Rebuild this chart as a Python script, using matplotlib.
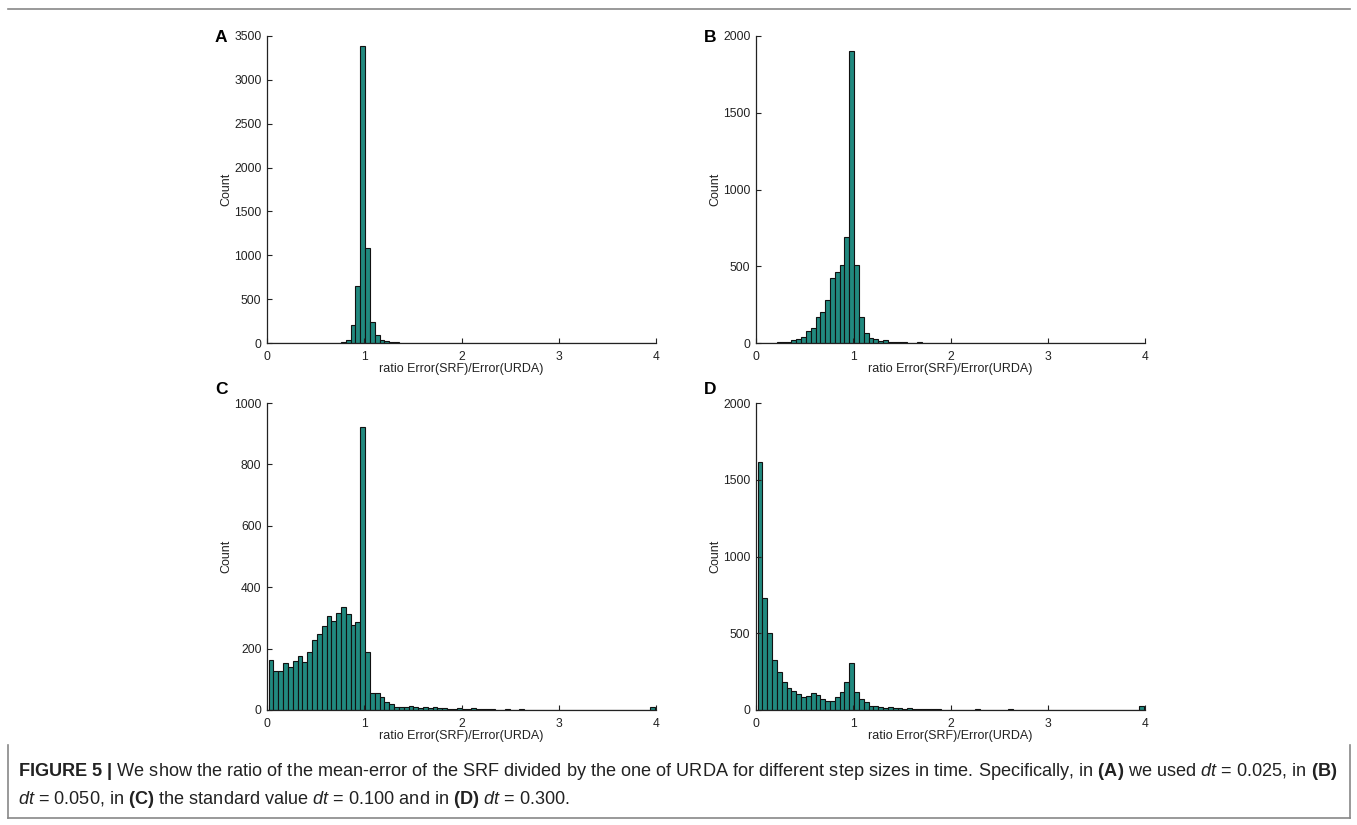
import numpy as np
import matplotlib
matplotlib.use("Agg")
import matplotlib.pyplot as plt
from matplotlib.lines import Line2D

plt.rcParams['font.family'] = ['Liberation Sans', 'DejaVu Sans']
plt.rcParams['mathtext.fontset'] = 'custom'
plt.rcParams['mathtext.rm'] = 'Liberation Sans'
plt.rcParams['mathtext.it'] = 'Liberation Sans:italic'
plt.rcParams['mathtext.bf'] = 'Liberation Sans:bold'

# ---- data: 80 histogram bins between min and max of the ratio ----
bin_lo = 0.017
bin_hi = 3.985
n_bins = 80

counts_A = [0]*14 + [5, 8, 30, 201, 653, 3390, 1082, 243, 87, 30, 20, 10, 6, 4, 2,
            0, 0, 0, 0, 5] + [0]*46
counts_B = [0, 0, 0, 3, 4, 5, 8, 17, 26, 39, 80, 100, 171, 202, 280, 423, 462, 509,
            691, 1902, 511, 169, 65, 33, 28, 11, 17, 8, 6, 5, 4, 3, 3, 5, 2] + [0]*45
counts_C = [163, 128, 128, 154, 140, 158, 175, 157, 189, 227, 247, 272, 305, 291, 317,
            336, 313, 276, 287, 922, 189, 54, 54, 41, 26, 20, 9, 10, 10, 12, 11, 8, 9,
            8, 10, 7, 5, 4, 4, 5, 4, 3, 5, 3, 2, 2, 2, 1, 1, 3, 1, 1, 2, 1, 1, 1, 1,
            1, 1, 1, 1, 1, 1, 1, 1, 1, 1, 1, 1, 1, 1, 1, 1, 1, 1, 1, 1, 1, 1, 11]
counts_D = [1614, 729, 501, 323, 247, 182, 141, 121, 106, 87, 91, 108, 98, 72, 56, 61,
            87, 119, 182, 308, 115, 72, 50, 28, 24, 22, 15, 17, 11, 13, 9, 11, 7, 6,
            7, 5, 4, 4, 3, 3, 2, 3, 2, 2, 2, 4, 2, 1, 1, 1, 1, 1, 4, 1, 1, 1, 1, 1,
            1, 1, 1, 1, 1, 1, 1, 1, 1, 1, 1, 1, 1, 1, 1, 1, 1, 1, 1, 1, 1, 24]

panel_labels = ['A', 'B', 'C', 'D']
ylims = [3500, 2000, 1000, 2000]
yticks = [list(range(0, 3501, 500)), list(range(0, 2001, 500)),
          list(range(0, 1001, 200)), list(range(0, 2001, 500))]
xticks = [0, 1, 2, 3, 4]
xlabel = 'ratio Error(SRF)/Error(URDA)'
ylabel = 'Count'

caption1 = (r"$\mathbf{FIGURE\ 5\ |}$ We show the ratio of the mean-error of the SRF divided by "
            r"the one of URDA for different step sizes in time. Specifically, in $\mathbf{(A)}$ "
            r"we used $\mathit{dt}$ = 0.025, in $\mathbf{(B)}$")
caption2 = (r"$\mathit{dt}$ = 0.050, in $\mathbf{(C)}$ the standard value $\mathit{dt}$ = 0.100 "
            r"and in $\mathbf{(D)}$ $\mathit{dt}$ = 0.300.")

# ---- figure ----
W, H = 1357, 825
fig = plt.figure(figsize=(W/100, H/100), dpi=100)
bar_color = '#21897f'

# axes boxes in pixels: (left, right, top, bottom)
boxes = [(267, 656, 36, 343), (756, 1145, 36, 343),
         (267, 656, 403, 710), (756, 1145, 403, 710)]
all_counts = [counts_A, counts_B, counts_C, counts_D]
edges = np.linspace(bin_lo, bin_hi, n_bins + 1)
widths = np.diff(edges)

for i, (l, r, t, b) in enumerate(boxes):
    ax = fig.add_axes([l/W, 1 - b/H, (r-l)/W, (b-t)/H])
    ax.bar(edges[:-1], all_counts[i], width=widths, align='edge',
           color=bar_color, edgecolor='#111111', linewidth=0.8)
    ax.set_xlim(0, 4)
    ax.set_ylim(0, ylims[i])
    ax.set_xticks(xticks)
    ax.set_yticks(yticks[i])
    ax.spines['top'].set_visible(False)
    ax.spines['right'].set_visible(False)
    for s in ['left', 'bottom']:
        ax.spines[s].set_linewidth(0.9)
        ax.spines[s].set_color('#222222')
    ax.tick_params(direction='in', length=3.5, width=0.8, labelsize=8.7,
                   colors='#222222')
    ax.tick_params(axis='x', pad=6)
    ax.tick_params(axis='y', pad=4)
    ax.set_xlabel(xlabel, fontsize=9, labelpad=0, color='#222222')
    ax.set_ylabel(ylabel, fontsize=9, labelpad=1, color='#222222')
    fig.text((l - 52)/W, 1 - (t + 1)/H if i < 2 else 1 - (t - 13)/H,
             panel_labels[i], fontsize=12.5, fontweight='bold',
             ha='left', va='center')

# frame
def hline(y, x0, x1):
    fig.add_artist(Line2D([x0/W, x1/W], [1 - y/H, 1 - y/H], color='#888888', lw=1.2))

def vline(x, y0, y1):
    fig.add_artist(Line2D([x/W, x/W], [1 - y0/H, 1 - y1/H], color='#888888', lw=1.2))

hline(9, 8, 1350)
vline(8, 745, 818)
vline(1350, 745, 818)
hline(818, 8, 1350)

fig.text(18/W, 1 - 772/H, caption1, fontsize=13.1, ha='left', va='center', color='#222222')
fig.text(18/W, 1 - 799/H, caption2, fontsize=13.1, ha='left', va='center', color='#222222')

fig.savefig('out.png', dpi=100)
